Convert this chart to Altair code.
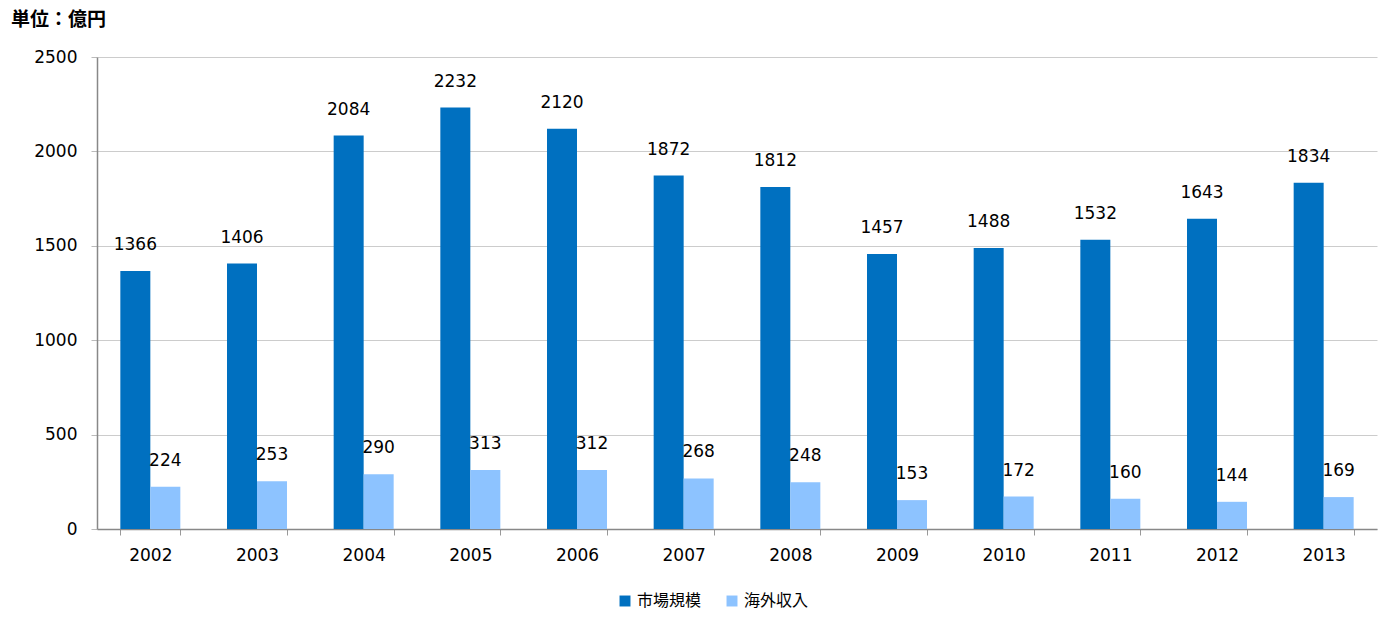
import altair as alt
import pandas as pd

years = ["2002", "2003", "2004", "2005", "2006", "2007", "2008", "2009", "2010", "2011", "2012", "2013"]
market = [1366, 1406, 2084, 2232, 2120, 1872, 1812, 1457, 1488, 1532, 1643, 1834]
overseas = [224, 253, 290, 313, 312, 268, 248, 153, 172, 160, 144, 169]
series = ["市場規模", "海外収入"]
colors = ["#0070C0", "#8DC3FF"]

rows = []
for y, m, o in zip(years, market, overseas):
    rows.append({"年": y, "系列": series[0], "値": m})
    rows.append({"年": y, "系列": series[1], "値": o})
df = pd.DataFrame(rows)

base = alt.Chart(df).encode(
    x=alt.X("年:N", title=None, sort=years,
            scale=alt.Scale(paddingInner=0.4375, paddingOuter=0.21875),
            axis=alt.Axis(labelAngle=0, tickBand="extent", tickSize=6, tickColor="#999999",
                          domainColor="#888888", domainWidth=1.5, labelPadding=12,
                          labelFont="DejaVu Sans", labelFontSize=17, labelColor="#000000")),
    xOffset=alt.XOffset("系列:N", sort=series, scale=alt.Scale(paddingInner=0, paddingOuter=0)),
)

bars = base.mark_bar().encode(
    y=alt.Y("値:Q", title=None, scale=alt.Scale(domain=[0, 2500], nice=False),
            axis=alt.Axis(values=[0, 500, 1000, 1500, 2000, 2500], format="d", tickSize=6,
                          tickColor="#bbbbbb", gridColor="#cccccc", domainColor="#888888",
                          domainWidth=1.5, labelPadding=14, labelFont="DejaVu Sans",
                          labelFontSize=17, labelColor="#000000")),
    color=alt.Color("系列:N", sort=series, scale=alt.Scale(domain=series, range=colors),
                    legend=alt.Legend(title=None, orient="none", direction="horizontal",
                                      legendX=520, legendY=536,
                                      symbolType="square", symbolSize=120, symbolStrokeWidth=0,
                                      labelFont="Noto Sans CJK JP", labelFontSize=16,
                                      labelColor="#000000", columnPadding=22)),
)

labels = base.mark_text(dy=-26, baseline="middle", font="DejaVu Sans", fontSize=17,
                        color="#000000").encode(
    y="値:Q",
    text="値:Q",
)

chart = (bars + labels).properties(
    width=1280,
    height=472,
    autosize=alt.AutoSizeParams(type="none"),
    padding={"left": 89, "top": 49, "right": 15, "bottom": 86},
    title=alt.TitleParams("単位：億円", anchor="start", frame="group", dx=-86, offset=18,
                          font="Noto Sans CJK JP", fontSize=19, fontWeight="bold",
                          color="#000000"),
).configure_view(stroke=None)

chart.save("out.html", embed_options={"renderer": "svg", "actions": False})
